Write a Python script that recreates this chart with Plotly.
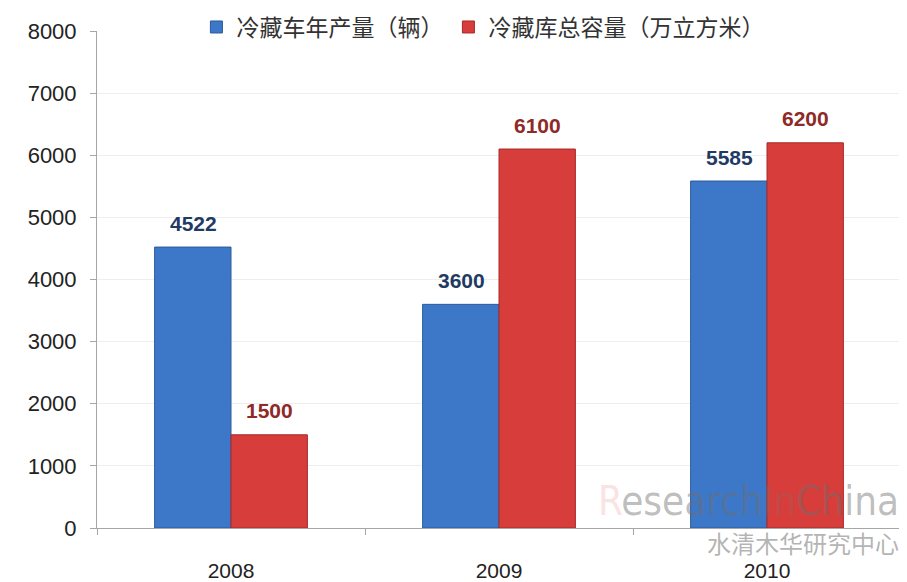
import plotly.graph_objects as go

years = ["2008", "2009", "2010"]
trucks = [4522, 3600, 5585]
storage = [1500, 6100, 6200]
name_trucks = "冷藏车年产量（辆）"
name_storage = "冷藏库总容量（万立方米）"
y_ticks = [0, 1000, 2000, 3000, 4000, 5000, 6000, 7000, 8000]

fig = go.Figure()
fig.add_trace(go.Bar(
    x=years, y=trucks, name=name_trucks,
    marker=dict(color="#3D78C8", line=dict(color="#2A5A9E", width=1)),
))
fig.add_trace(go.Bar(
    x=years, y=storage, name=name_storage,
    marker=dict(color="#D63D3B", line=dict(color="#A82A28", width=1)),
))

# value labels above bars (x given as category index on the category axis)
for vals, shift, col in ((trucks, -38, "#1F3B64"), (storage, 38, "#8E2A28")):
    for i, v in enumerate(vals):
        fig.add_annotation(x=i, y=v, xref="x", yref="y", text=f"<b>{v}</b>",
                           showarrow=False, xshift=shift, yshift=24,
                           font=dict(family="Liberation Sans, Arial", size=21, color=col))

fig.update_layout(
    width=899, height=574,
    margin=dict(l=89, r=6, t=23, b=54, autoexpand=False),
    paper_bgcolor="white", plot_bgcolor="white",
    barmode="group", bargap=0.43, bargroupgap=0,
    font=dict(family="Liberation Sans, Arial", size=20, color="#222222"),
    legend=dict(orientation="h", x=0.48, xanchor="center", y=1.008, yanchor="middle",
                font=dict(family="Noto Sans CJK SC", size=23, color="#333333"),
                itemwidth=30, traceorder="normal", bgcolor="rgba(0,0,0,0)"),
    showlegend=True,
    xaxis=dict(type="category", range=[-0.5, 2.5], showline=True, linecolor="#A6A6A6", linewidth=1,
               ticks="outside", tickson="boundaries", ticklen=6, tickcolor="#A6A6A6",
               ticklabelstandoff=24,
               tickfont=dict(size=21, color="#222222")),
    yaxis=dict(range=[0, 8000], tickvals=y_ticks, showline=True, linecolor="#A6A6A6",
               linewidth=1, ticks="outside", ticklen=6, tickcolor="#A6A6A6",
               ticklabelstandoff=9,
               showgrid=True, gridcolor="#EEEEEE", zeroline=False,
               tickfont=dict(size=22, color="#222222")),
)

fig.add_annotation(xref="paper", yref="paper", x=1.0, y=0.005, xanchor="right", yanchor="bottom",
                   text="<span style='color:rgba(220,80,80,0.4)'>R</span>esearch<span style='color:rgba(120,120,120,0.5)'>In</span>China",
                   showarrow=False,
                   font=dict(family="Liberation Sans Narrow, DejaVu Sans Condensed", size=40,
                             color="rgba(110,110,110,0.45)"))
fig.add_annotation(xref="paper", yref="paper", x=1.0, y=0.0, xanchor="right", yanchor="top",
                   text="水清木华研究中心", showarrow=False, yshift=5,
                   font=dict(family="Noto Sans CJK SC", size=24, color="rgba(130,130,130,0.6)"))

fig.write_html("out.html")
